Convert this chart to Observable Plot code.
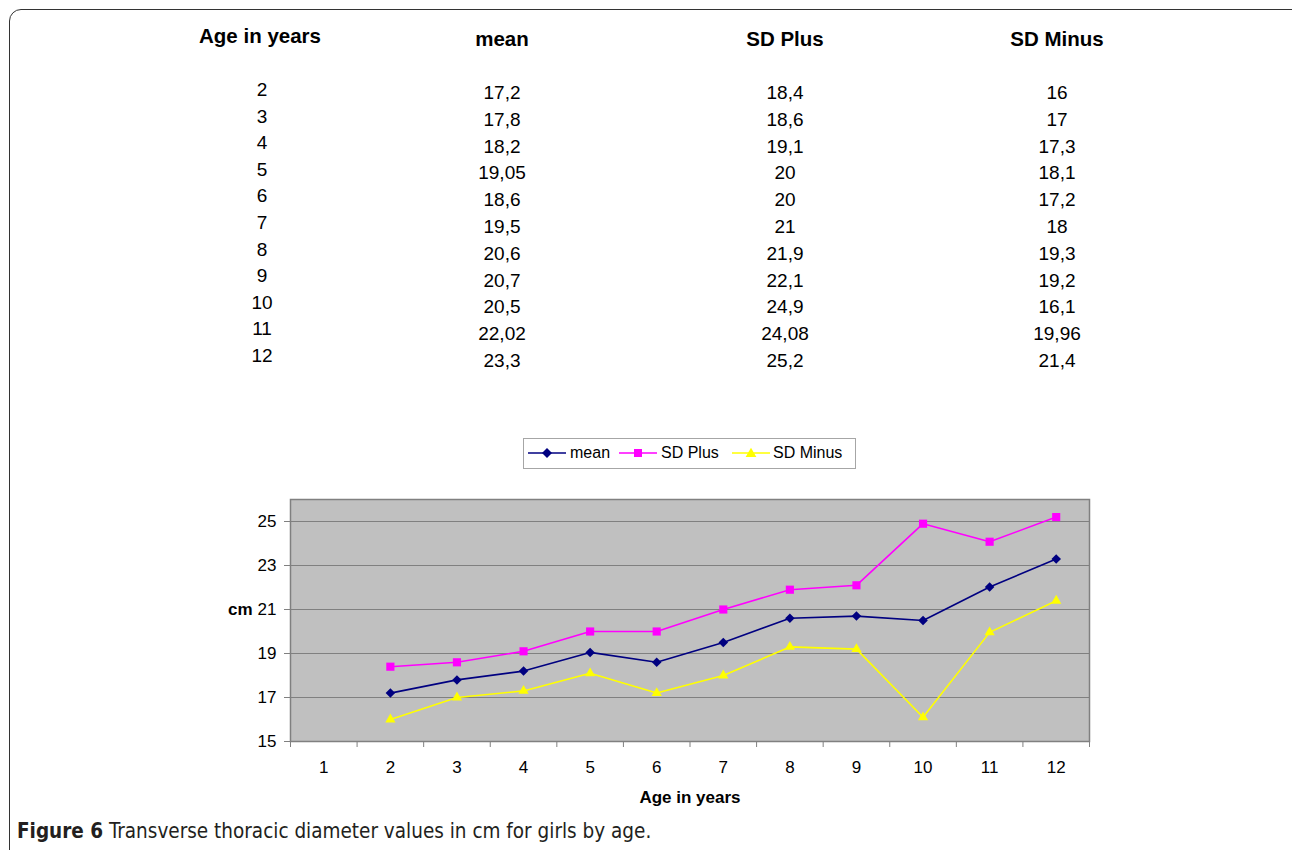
<!DOCTYPE html>
<html>
<head>
<meta charset="utf-8">
<script src="https://cdn.jsdelivr.net/npm/d3@7"></script>
<script src="https://cdn.jsdelivr.net/npm/@observablehq/plot@0.6"></script>
<style>
  html, body { margin:0; padding:0; background:#fff; }
  body { width:1292px; height:850px; position:relative; overflow:hidden; font-family:"Liberation Sans", Arial, sans-serif; color:#000; }
  #frame { position:absolute; left:9px; top:9px; width:1310px; height:880px; border:1.5px solid #333; border-radius:12px; box-sizing:border-box; }
  .t { position:absolute; transform:translate(-50%,-50%); white-space:nowrap; line-height:1; }
  .h { font-weight:bold; font-size:20.5px; }
  .v { font-size:19px; }
  #legend { position:absolute; left:523px; top:438px; width:333px; height:31px; border:1.5px solid #a6a6a6; box-sizing:border-box; font-size:16px; }
  #legend svg { position:absolute; top:6px; display:block; }
  #legend span { position:absolute; top:5px; line-height:18px; }
  #chart { position:absolute; left:0; top:480px; }
  #caption { position:absolute; left:17px; top:819px; font-family:"Liberation Sans Narrow", "DejaVu Sans Condensed", sans-serif; font-size:20.5px; white-space:nowrap; color:#231f20; }
</style>
</head>
<body>
<div id="frame"></div>
<div id="table"></div>
<div id="legend"></div>
<div id="chart"></div>
<div id="caption"><b>Figure 6</b> Transverse thoracic diameter values in cm for girls by age.</div>
<script>
// ---- data ----
const ages = [2, 3, 4, 5, 6, 7, 8, 9, 10, 11, 12];
const mean = [17.2, 17.8, 18.2, 19.05, 18.6, 19.5, 20.6, 20.7, 20.5, 22.02, 23.3];
const sdPlus = [18.4, 18.6, 19.1, 20, 20, 21, 21.9, 22.1, 24.9, 24.08, 25.2];
const sdMinus = [16, 17, 17.3, 18.1, 17.2, 18, 19.3, 19.2, 16.1, 19.96, 21.4];
const categories = [1, 2, 3, 4, 5, 6, 7, 8, 9, 10, 11, 12];
const yTicks = [15, 17, 19, 21, 23, 25];
const headers = ["Age in years", "mean", "SD Plus", "SD Minus"];
const seriesNames = ["mean", "SD Plus", "SD Minus"];
const seriesColors = ["#000080", "#ff00ff", "#ffff00"];
const seriesSymbols = ["diamond2", "square", "triangle"];

// ---- table ----
const fmt = v => String(v).replace(".", ",");
const table = document.getElementById("table");
const colX = [262, 502, 785, 1057];
const headY = [36, 39, 39, 39];
headers.forEach((h, j) => {
  const d = document.createElement("div");
  d.className = "t h";
  d.style.left = (j === 0 ? 260 : colX[j]) + "px";
  d.style.top = headY[j] + "px";
  d.textContent = h;
  table.appendChild(d);
});
const cols = [ages, mean, sdPlus, sdMinus];
ages.forEach((a, i) => {
  cols.forEach((col, j) => {
    const d = document.createElement("div");
    d.className = "t v";
    d.style.left = colX[j] + "px";
    d.style.top = (j === 0 ? 89 + i * 26.6 : 92 + i * 26.8) + "px";
    d.textContent = fmt(col[i]);
    table.appendChild(d);
  });
});

// ---- legend ----
const legend = document.getElementById("legend");
const legendLineX = [4, 95, 208];
const legendTextX = [46, 137, 249];
seriesNames.forEach((name, k) => {
  const sym = d3.symbol(
    k === 0 ? d3.symbolDiamond2 : k === 1 ? d3.symbolSquare : d3.symbolTriangle,
    k === 0 ? 64 : k === 1 ? 64 : 50)();
  const svg = document.createElementNS("http://www.w3.org/2000/svg", "svg");
  svg.setAttribute("width", 38);
  svg.setAttribute("height", 16);
  svg.style.left = legendLineX[k] + "px";
  svg.innerHTML =
    `<line x1="0" y1="8" x2="38" y2="8" stroke="${seriesColors[k]}" stroke-width="1.5"/>` +
    `<path d="${sym}" transform="translate(19,${k === 2 ? 9 : 8})" fill="${seriesColors[k]}"/>`;
  legend.appendChild(svg);
  const span = document.createElement("span");
  span.style.left = legendTextX[k] + "px";
  span.textContent = name;
  legend.appendChild(span);
});

// ---- chart ----
const allSeries = [mean, sdPlus, sdMinus];
const boundaries = categories.map(c => c - 0.5).concat([categories[categories.length - 1] + 0.5]);
const marks = [
  Plot.frame({fill: "#c0c0c0"}),
  Plot.gridY(yTicks, {stroke: "#808080", strokeOpacity: 1, strokeWidth: 1.2}),
  Plot.frame({stroke: "#808080", strokeWidth: 1.5}),
  Plot.axisY(yTicks, {tickSize: 6, tickPadding: 8, stroke: "#808080", label: null, fontSize: 17}),
  Plot.axisX(boundaries, {tickSize: 6, tickFormat: () => "", stroke: "#808080", label: null}),
  Plot.axisX(categories, {tickSize: 0, tickPadding: 19, label: null, fontSize: 17}),
  Plot.text(["cm"], {frameAnchor: "left", dx: -38, dy: -11, textAnchor: "end", fontWeight: "bold", fontSize: 17}),
  Plot.text(["Age in years"], {frameAnchor: "bottom", dy: 61, fontWeight: "bold", fontSize: 17})
];
allSeries.forEach((vals, k) => {
  const rows = ages.map((a, i) => ({age: a, value: vals[i]}));
  marks.push(Plot.line(rows, {x: "age", y: "value", stroke: seriesColors[k], strokeWidth: 1.6}));
  marks.push(Plot.dot(rows, {x: "age", y: "value", symbol: seriesSymbols[k], fill: seriesColors[k], stroke: "none",
    r: k === 0 ? 4.3 : k === 1 ? 4.6 : 3.8}));
});
const chart = Plot.plot({
  width: 1292, height: 340,
  marginLeft: 290, marginRight: 203, marginTop: 19, marginBottom: 79,
  style: {fontFamily: "'Liberation Sans', Arial, sans-serif", fontSize: "17px", background: "transparent", color: "#000"},
  x: {domain: [boundaries[0], boundaries[boundaries.length - 1]]},
  y: {domain: [15, 26]},
  marks
});
document.getElementById("chart").appendChild(chart);
</script>
</body>
</html>
